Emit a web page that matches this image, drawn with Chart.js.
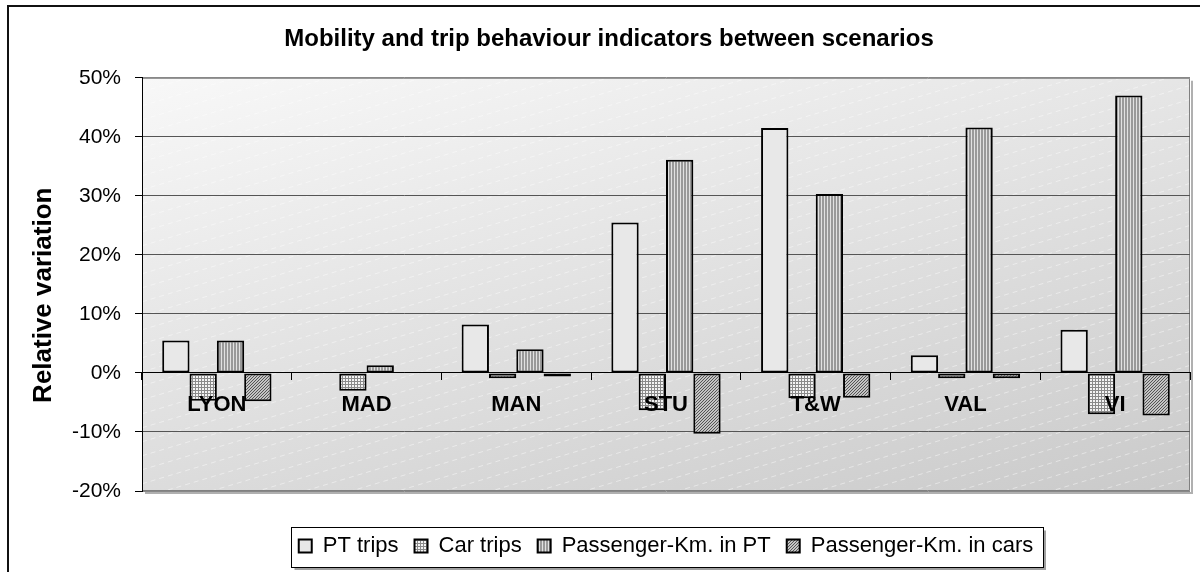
<!DOCTYPE html>
<html>
<head>
<meta charset="utf-8">
<script src="https://cdn.jsdelivr.net/npm/chart.js@4.4.1/dist/chart.umd.min.js"></script>
<style>
  html, body { margin: 0; padding: 0; background: #fff; }
  #wrap { width: 1200px; height: 572px; position: relative; }
</style>
</head>
<body>
<div id="wrap"><canvas id="c" width="1200" height="572"></canvas></div>
<script>
// ---- Data ----
const categories = ['LYON', 'MAD', 'MAN', 'STU', 'T&W', 'VAL', 'VI'];
const ptTrips   = [5.5, 0, 8.2, 25.5, 41.5, 3.0, 7.3];
const carTrips  = [-4.7, -3.0, -0.9, -6.3, -4.3, -0.9, -7.0];
const pkmPT     = [5.5, 1.3, 4.0, 36.1, 30.3, 41.6, 47.0];
const pkmCars   = [-4.8, 0, -0.6, -10.3, -4.2, -0.9, -7.2];
const seriesNames = ['PT trips', 'Car trips', 'Passenger-Km. in PT', 'Passenger-Km. in cars'];
const yTicks = { min: -20, max: 50, step: 10 };

// ---- Patterns ----
function makePattern(w, h, draw) {
  const c = document.createElement('canvas');
  c.width = w; c.height = h;
  const x = c.getContext('2d');
  draw(x);
  return x.createPattern(c, 'repeat');
}
const pGrid = makePattern(3, 3, x => {
  x.fillStyle = '#f4f4f4'; x.fillRect(0, 0, 3, 3);
  x.fillStyle = '#8a8a8a'; x.fillRect(0, 0, 3, 1); x.fillRect(0, 0, 1, 3);
});
const pVert = makePattern(3, 1, x => {
  x.fillStyle = '#9a9a9a'; x.fillRect(0, 0, 3, 1);
  x.fillStyle = '#e2e2e2'; x.fillRect(2, 0, 1, 1);
});
const pDiag = makePattern(3, 3, x => {
  x.fillStyle = '#c4c4c4'; x.fillRect(0, 0, 3, 3);
  x.fillStyle = '#555555';
  x.fillRect(0, 2, 1, 1); x.fillRect(1, 1, 1, 1); x.fillRect(2, 0, 1, 1);
});
const fills = ['#e8e8e8', pGrid, pVert, pDiag];
const seriesData = [ptTrips, carTrips, pkmPT, pkmCars];

Chart.defaults.font.family = '"Liberation Sans", Arial, sans-serif';
Chart.defaults.color = '#000';

const bgPlugin = {
  id: 'bgPlugin',
  beforeDraw(chart) {
    const c = chart.ctx, a = chart.chartArea;
    c.save();
    c.strokeStyle = '#111'; c.lineWidth = 2;
    c.strokeRect(8, 6, 1400, 800);
    const g = c.createLinearGradient(a.left, a.top, a.left + 176, a.top + 693);
    g.addColorStop(0, '#f8f8f8');
    g.addColorStop(1, '#c6c6c6');
    c.fillStyle = g;
    c.fillRect(a.left, a.top, a.right - a.left, a.bottom - a.top);
    c.beginPath(); c.rect(a.left, a.top, a.right - a.left, a.bottom - a.top); c.clip();
    c.strokeStyle = 'rgba(255,255,255,0.45)'; c.lineWidth = 1; c.setLineDash([5, 4]);
    const W = a.right - a.left, slope = 0.3;
    for (let k = 0; k < (a.bottom - a.top) + W * slope; k += 14) {
      c.beginPath();
      c.moveTo(a.left, a.top + k);
      c.lineTo(a.right, a.top + k - W * slope);
      c.stroke();
    }
    c.restore();
    c.save();
    c.strokeStyle = '#b0b0b0'; c.lineWidth = 2;
    c.beginPath();
    c.moveTo(a.right + 2, a.top + 3); c.lineTo(a.right + 2, a.bottom + 2); c.lineTo(a.left + 3, a.bottom + 2);
    c.stroke();
    c.strokeStyle = '#808080'; c.lineWidth = 1;
    c.beginPath();
    c.moveTo(a.left, a.top + 0.5); c.lineTo(a.right - 0.5, a.top + 0.5);
    c.lineTo(a.right - 0.5, a.bottom - 0.5); c.lineTo(a.left, a.bottom - 0.5);
    c.stroke();
    c.restore();
  },
  afterDraw(chart) {
    const lg = chart.legend;
    if (!lg || !lg.legendHitBoxes || !lg.legendHitBoxes.length) return;
    const hb = lg.legendHitBoxes;
    let l = Infinity, r = -Infinity, t = Infinity, b = -Infinity;
    hb.forEach(h => { l = Math.min(l, h.left); r = Math.max(r, h.left + h.width); t = Math.min(t, h.top); b = Math.max(b, h.top + h.height); });
    const c = chart.ctx;
    const x0 = Math.round(l - 8) + 0.5, x1 = Math.round(r + 10) + 0.5;
    const y0 = Math.round(t - 8) + 0.5, y1 = Math.round(b + 10) + 0.5;
    c.save();
    c.strokeStyle = '#a0a0a0'; c.lineWidth = 2;
    c.beginPath(); c.moveTo(x1 + 1.5, y0 + 3); c.lineTo(x1 + 1.5, y1 + 1.5); c.lineTo(x0 + 3, y1 + 1.5); c.stroke();
    c.strokeStyle = '#000'; c.lineWidth = 1;
    c.strokeRect(x0, y0, x1 - x0, y1 - y0);
    c.restore();
  }
};

new Chart(document.getElementById('c'), {
  type: 'bar',
  data: {
    labels: categories,
    datasets: seriesNames.map((n, i) => ({
      label: n,
      data: seriesData[i],
      backgroundColor: fills[i],
      borderColor: '#000',
      borderWidth: 2,
      borderSkipped: false,
      barPercentage: 1.0,
      categoryPercentage: 0.73
    }))
  },
  options: {
    responsive: false,
    animation: false,
    devicePixelRatio: 1,
    layout: { padding: { left: 28, right: 10, top: 0, bottom: 5 } },
    plugins: {
      title: {
        display: true,
        text: 'Mobility and trip behaviour indicators between scenarios',
        font: { size: 24, weight: 'bold' },
        color: '#000',
        padding: { top: 25, bottom: 24 }
      },
      legend: {
        position: 'bottom',
        fullSize: false,
        title: { display: true, text: '', font: { size: 10 }, padding: { top: 16, bottom: 0 } },
        labels: { boxWidth: 13, boxHeight: 13, padding: 16, color: '#000', font: { size: 22 } }
      },
      tooltip: { enabled: false }
    },
    scales: {
      x: {
        position: { y: 0 },
        grid: { display: true, drawOnChartArea: false, drawTicks: true, tickLength: 7, offset: true, color: '#000', tickColor: '#000' },
        border: { display: true, color: '#000', width: 1 },
        ticks: { z: 1, font: { size: 22, weight: 'bold' }, color: '#000', padding: 12, maxRotation: 0, autoSkip: false }
      },
      y: {
        min: yTicks.min, max: yTicks.max,
        ticks: { stepSize: yTicks.step, callback: v => v + '%', font: { size: 21 }, color: '#000', padding: 14 },
        grid: {
          color: c => (c.tick && (c.tick.value === yTicks.max || c.tick.value === yTicks.min)) ? '#888' : '#555',
          tickLength: 7, tickColor: '#000', drawTicks: true
        },
        border: { display: true, color: '#000', width: 1 },
        title: { display: true, text: 'Relative variation   ', font: { size: 26, weight: 'bold' }, color: '#000', padding: { top: 0, bottom: 0 } },
        afterFit: s => { s.width = 114; }
      }
    }
  },
  plugins: [bgPlugin]
});
</script>
</body>
</html>
